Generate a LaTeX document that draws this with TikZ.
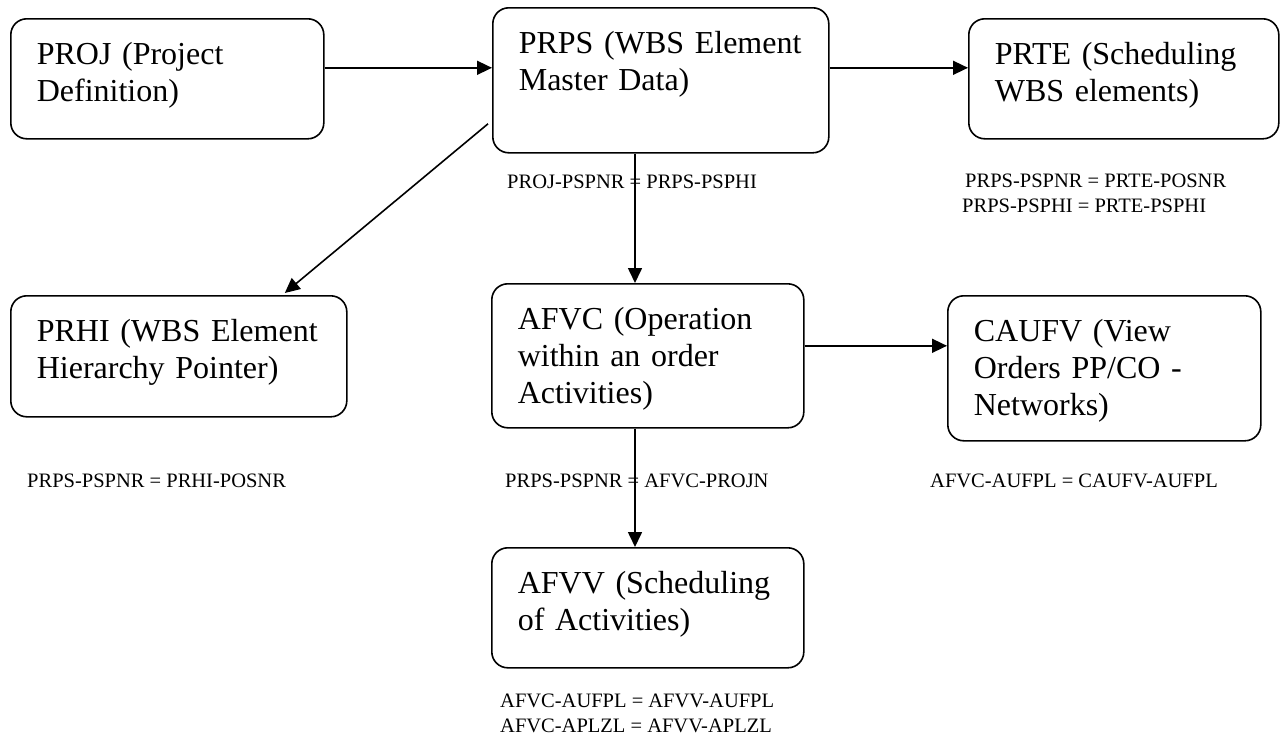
\documentclass[tikz,border=0pt]{standalone}
\usepackage{fontspec}
\setmainfont{Liberation Serif}
\usepackage{tikz}
\usetikzlibrary{arrows.meta,positioning}
\tikzstyle{arrow} = [line width=1.6pt,-{Triangle[length=15pt,width=14pt]}]
\tikzstyle{tablebox} = [draw, line width=1.6pt, rounded corners=16pt, anchor=north west, align=left,
  inner xsep=26pt, inner ysep=0pt, text height=46pt, font=\fontsize{32}{37}\selectfont]
\tikzstyle{joinlabel} = [anchor=base west, inner sep=0pt, font=\fontsize{20.5}{25}\selectfont]

\begin{document}
\begin{tikzpicture}[x=1pt, y=-1pt]
\useasboundingbox (0,0) rectangle (1288,740);

% Tables
\node[tablebox, text width=261pt, text depth=74pt] (proj) at (10,18) {PROJ (Project\\Definition)};
\node[tablebox, text width=284pt, text depth=99pt] (prps) at (492,7) {PRPS (WBS Element\\Master Data)};
\node[tablebox, text width=258pt, text depth=74pt] (prte) at (968,18) {PRTE (Scheduling\\WBS elements)};
\node[tablebox, text width=284pt, text depth=75pt] (prhi) at (10,295) {PRHI (WBS Element\\Hierarchy Pointer)};
\node[tablebox, text width=260pt, text depth=98pt] (afvc) at (491,283) {AFVC (Operation\\within an order\\Activities)};
\node[tablebox, text width=261pt, text depth=99pt] (caufv) at (947,295) {CAUFV (View\\Orders PP/CO -\\Networks)};
\node[tablebox, text width=260pt, text depth=74pt] (afvv) at (491,547) {AFVV (Scheduling\\of Activities)};

% Join conditions
\node[joinlabel] (joinprps) at (507,188) {PROJ-PSPNR = PRPS-PSPHI};
\node[joinlabel] (joinprte) at (965,187) {PRPS-PSPNR = PRTE-POSNR};
\node[joinlabel] (joinprte2) at (962,212) {PRPS-PSPHI = PRTE-PSPHI};
\node[joinlabel] (joinprhi) at (27,487) {PRPS-PSPNR = PRHI-POSNR};
\node[joinlabel] (joinafvc) at (505,487) {PRPS-PSPNR = AFVC-PROJN};
\node[joinlabel] (joincaufv) at (930,487) {AFVC-AUFPL = CAUFV-AUFPL};
\node[joinlabel] (joinafvv) at (500,707) {AFVC-AUFPL = AFVV-AUFPL};
\node[joinlabel] (joinafvv2) at (500,732) {AFVC-APLZL = AFVV-APLZL};

% Links
\coordinate (row) at ([yshift=11pt]proj.east);
\coordinate (col) at (635,0);
\draw[arrow] (row) -- (row -| prps.west);
\draw[arrow] (row -| prps.east) -- (row -| prte.west);
\draw[arrow] (prps.south -| col) -- (afvc.north -| col);
\draw[arrow] (afvc.south -| col) -- (afvv.north -| col);
\draw[arrow] ([shift={(-4pt,-43.5pt)}]prps.west) -- ([shift={(106pt,2pt)}]prhi.north);
\draw[arrow] ([yshift=10pt]afvc.east) -- ([yshift=10pt]afvc.east -| caufv.west);
\end{tikzpicture}
\end{document}
